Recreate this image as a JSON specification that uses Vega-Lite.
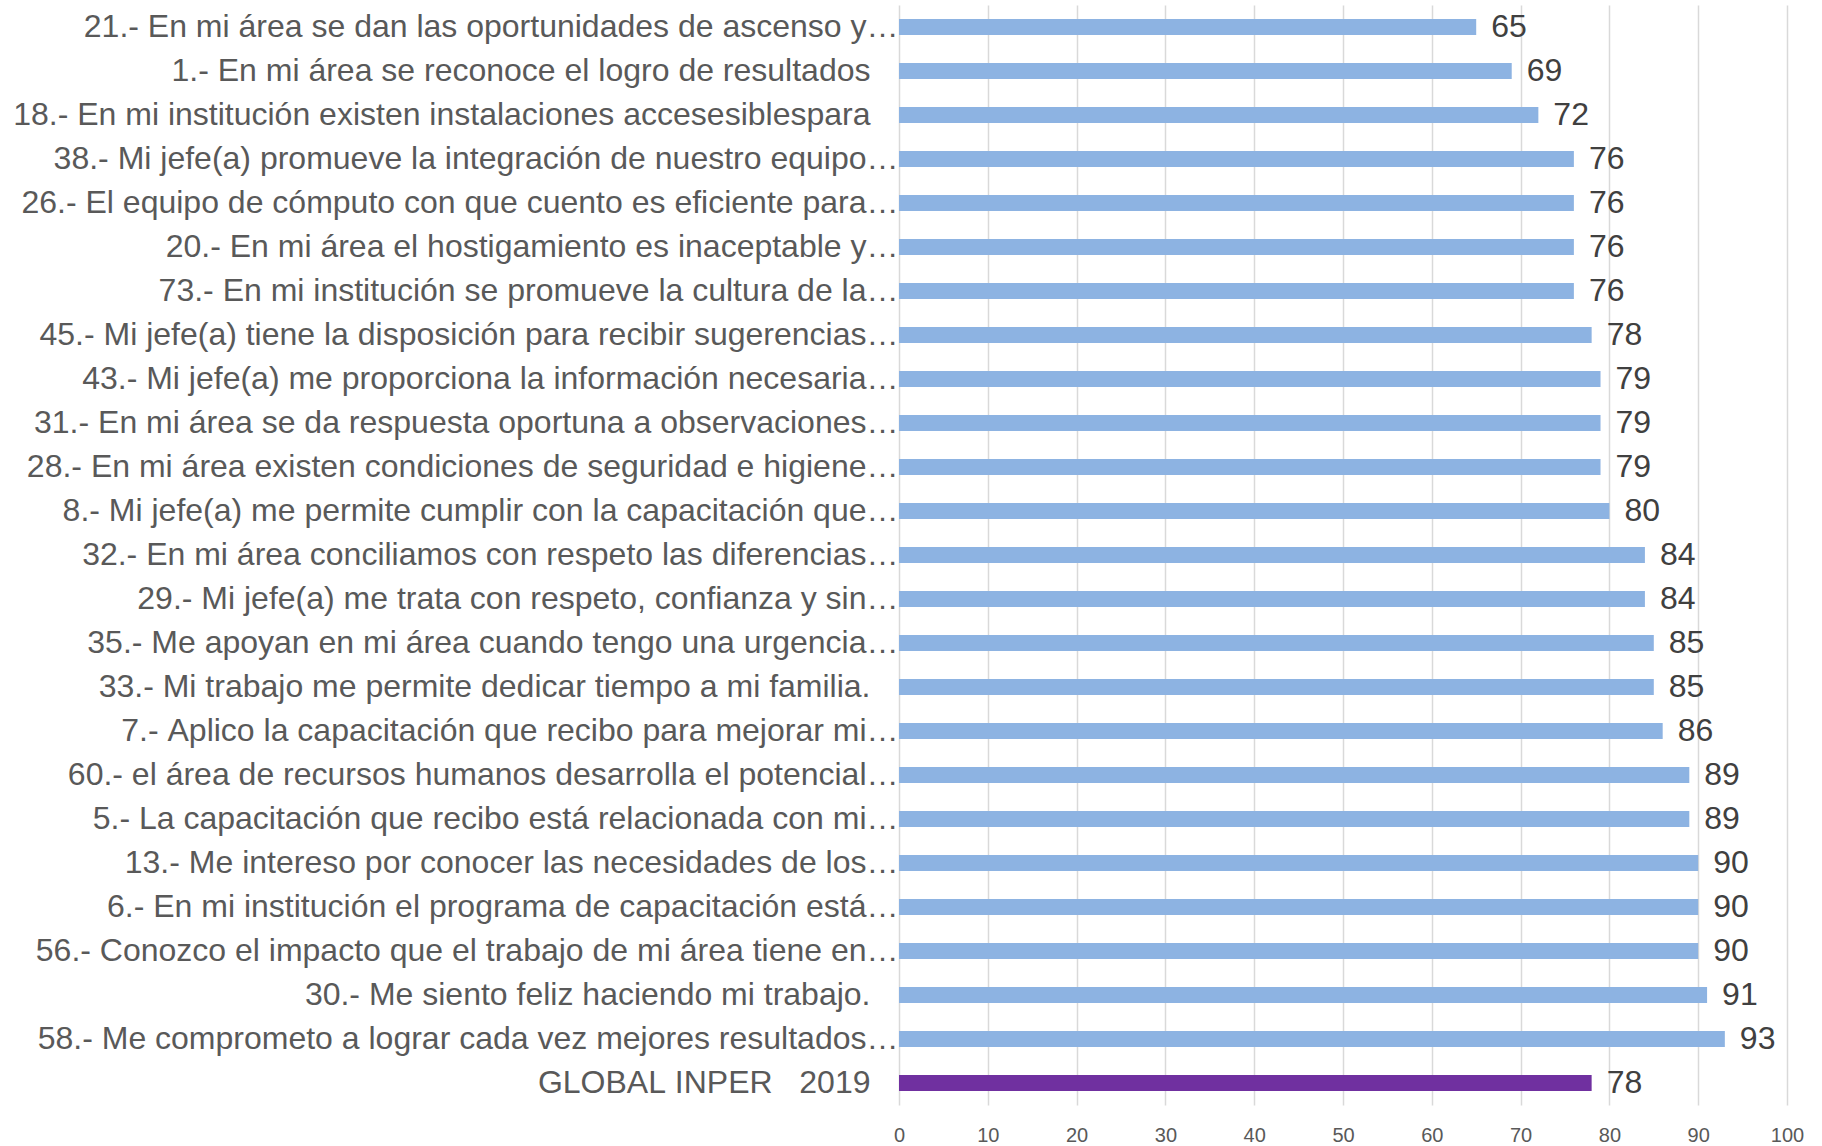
{
  "$schema": "https://vega.github.io/schema/vega-lite/v6.json",
  "autosize": {"type": "none"},
  "width": 888,
  "height": 1100,
  "padding": {"left": 899, "top": 5, "right": 35, "bottom": 41},
  "background": "white",
  "config": {"view": {"stroke": null}, "font": "Liberation Sans"},
  "data": {
    "values": [
      {"item": "21.- En mi área se dan las oportunidades de ascenso y…", "value": 65, "group": "Reactivo"},
      {"item": "1.- En mi área se reconoce el logro de resultados", "value": 69, "group": "Reactivo"},
      {"item": "18.- En mi institución existen instalaciones accesesiblespara", "value": 72, "group": "Reactivo"},
      {"item": "38.- Mi jefe(a) promueve la integración de nuestro equipo…", "value": 76, "group": "Reactivo"},
      {"item": "26.- El equipo de cómputo con que cuento es eficiente para…", "value": 76, "group": "Reactivo"},
      {"item": "20.- En mi área el hostigamiento es inaceptable y…", "value": 76, "group": "Reactivo"},
      {"item": "73.- En mi institución se promueve la cultura de la…", "value": 76, "group": "Reactivo"},
      {"item": "45.- Mi jefe(a) tiene la disposición para recibir sugerencias…", "value": 78, "group": "Reactivo"},
      {"item": "43.- Mi jefe(a) me proporciona la información necesaria…", "value": 79, "group": "Reactivo"},
      {"item": "31.- En mi área se da respuesta oportuna a observaciones…", "value": 79, "group": "Reactivo"},
      {"item": "28.- En mi área existen condiciones de seguridad e higiene…", "value": 79, "group": "Reactivo"},
      {"item": "8.- Mi jefe(a) me permite cumplir con la capacitación que…", "value": 80, "group": "Reactivo"},
      {"item": "32.- En mi área conciliamos con respeto las diferencias…", "value": 84, "group": "Reactivo"},
      {"item": "29.- Mi jefe(a) me trata con respeto, confianza y sin…", "value": 84, "group": "Reactivo"},
      {"item": "35.- Me apoyan en mi área cuando tengo una urgencia…", "value": 85, "group": "Reactivo"},
      {"item": "33.- Mi trabajo me permite dedicar tiempo a mi familia.", "value": 85, "group": "Reactivo"},
      {"item": "7.- Aplico la capacitación que recibo para mejorar mi…", "value": 86, "group": "Reactivo"},
      {"item": "60.- el área de recursos humanos desarrolla el potencial…", "value": 89, "group": "Reactivo"},
      {"item": "5.- La capacitación que recibo está relacionada con mi…", "value": 89, "group": "Reactivo"},
      {"item": "13.- Me intereso por conocer las necesidades de los…", "value": 90, "group": "Reactivo"},
      {"item": "6.- En mi institución el programa de capacitación está…", "value": 90, "group": "Reactivo"},
      {"item": "56.- Conozco el impacto que el trabajo de mi área tiene en…", "value": 90, "group": "Reactivo"},
      {"item": "30.- Me siento feliz haciendo mi trabajo.", "value": 91, "group": "Reactivo"},
      {"item": "58.- Me comprometo a lograr cada vez mejores resultados…", "value": 93, "group": "Reactivo"},
      {"item": "GLOBAL INPER   2019", "value": 78, "group": "Global"}
    ]
  },
  "encoding": {
    "y": {
      "field": "item",
      "type": "nominal",
      "sort": null,
      "scale": {"paddingInner": 0.64, "paddingOuter": 0.32},
      "axis": {
        "title": null,
        "ticks": false,
        "domain": false,
        "labelFontSize": 32,
        "labelColor": "#595959",
        "labelPadding": {"condition": {"test": "slice(datum.value, -1) === '…'", "value": 1}, "value": 29},
        "labelLimit": 0,
        "labelExpr": "replace(datum.label, regexp(' ', 'g'), '\u00a0')"
      }
    }
  },
  "layer": [
    {
      "mark": {"type": "bar"},
      "encoding": {
        "x": {
          "field": "value",
          "type": "quantitative",
          "scale": {"domain": [0, 100], "nice": false},
          "axis": {
            "title": null,
            "values": [0, 10, 20, 30, 40, 50, 60, 70, 80, 90, 100],
            "grid": true,
            "gridColor": "#D9D9D9",
            "gridWidth": 1.5,
            "ticks": false,
            "domain": false,
            "labelFlush": false,
            "labelFontSize": 20,
            "labelColor": "#595959",
            "labelPadding": 20
          }
        },
        "color": {
          "field": "group",
          "type": "nominal",
          "scale": {"domain": ["Reactivo", "Global"], "range": ["#8DB3E2", "#7030A0"]},
          "legend": null
        }
      }
    },
    {
      "mark": {"type": "text", "align": "left", "baseline": "middle", "dx": 15, "fontSize": 32, "color": "#404040"},
      "encoding": {
        "x": {"field": "value", "type": "quantitative"},
        "text": {"field": "value", "type": "quantitative"}
      }
    }
  ]
}
